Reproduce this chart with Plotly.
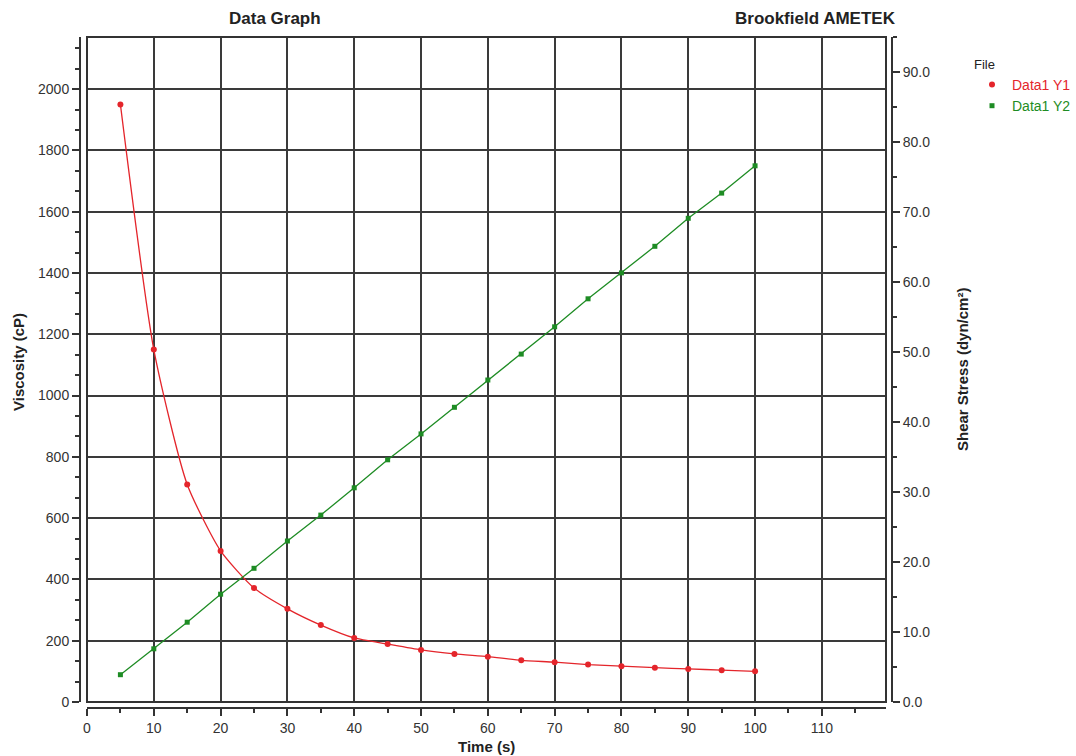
import plotly.graph_objects as go

# ---- data ----
time_s = [5, 10, 15, 20, 25, 30, 35, 40, 45, 50, 55, 60, 65, 70, 75, 80, 85, 90, 95, 100]
viscosity_cp = [1950, 1150, 710, 493, 372, 304, 251, 209, 189, 170, 157, 148, 136, 130, 122, 117, 112, 108, 104, 100]
shear_stress = [3.9, 7.6, 11.4, 15.4, 19.1, 23.0, 26.7, 30.6, 34.6, 38.3, 42.1, 46.0, 49.7, 53.6, 57.6, 61.3, 65.1, 69.1, 72.7, 76.6]

series_names = ["Data1 Y1", "Data1 Y2"]
legend_title = "File"
chart_title_left = "Data Graph"
chart_title_right = "Brookfield AMETEK"
x_title = "Time (s)"
y1_title = "Viscosity (cP)"
y2_title = "Shear Stress (dyn/cm²)"

W, H = 1076, 756
RED = "#e4252b"
GREEN = "#1e8c24"
AX = "#333333"
FONT = "Liberation Sans, Arial, sans-serif"


def fx(p):
    return p / W


def fy(p):
    return 1 - p / H


fig = go.Figure()

# red viscosity
fig.add_trace(go.Scatter(x=time_s, y=viscosity_cp, mode="lines", showlegend=False,
                         line=dict(color=RED, width=1.3, shape="spline", smoothing=0.6),
                         yaxis="y", hoverinfo="skip"))
fig.add_trace(go.Scatter(x=time_s, y=viscosity_cp, mode="markers",
                         name=f'<span style="color:{RED}">{series_names[0]}</span>',
                         marker=dict(symbol="circle", size=6, color=RED),
                         yaxis="y"))
# green shear stress
fig.add_trace(go.Scatter(x=time_s, y=shear_stress, mode="lines", showlegend=False,
                         line=dict(color=GREEN, width=1.3),
                         yaxis="y2", hoverinfo="skip"))
fig.add_trace(go.Scatter(x=time_s, y=shear_stress, mode="markers",
                         name=f'<span style="color:{GREEN}">{series_names[1]}</span>',
                         marker=dict(symbol="square", size=5, color=GREEN),
                         yaxis="y2"))

tickfont = dict(family=FONT, size=14, color=AX)

fig.update_layout(
    width=W, height=H, autosize=False,
    margin=dict(l=0, r=0, t=0, b=0, autoexpand=False),
    paper_bgcolor="white", plot_bgcolor="white",
    font=dict(family=FONT, color=AX),
    xaxis=dict(
        domain=[fx(87), fx(886)], anchor="free", position=fy(708),
        range=[0, 119.6], tick0=0, dtick=10, autorange=False,
        showgrid=True, gridcolor="#3a3a3a", gridwidth=1.6, zeroline=False,
        showline=True, linecolor=AX, linewidth=2,
        ticks="outside", ticklen=7, tickwidth=1.5, tickcolor=AX,
        minor=dict(ticks="outside", dtick=5, ticklen=4, tickwidth=1.5, tickcolor=AX, showgrid=False),
        tickfont=tickfont, automargin=False,
    ),
    yaxis=dict(
        domain=[fy(702), fy(37)], anchor="free", position=fx(80),
        range=[0, 2170], tick0=0, dtick=200, autorange=False,
        showgrid=True, gridcolor="#3a3a3a", gridwidth=1.6, zeroline=False,
        showline=True, linecolor=AX, linewidth=2,
        ticks="outside", ticklen=7, tickwidth=1.5, tickcolor=AX,
        minor=dict(ticks="outside", dtick=200 / 3, ticklen=4, tickwidth=1.5, tickcolor=AX, showgrid=False),
        tickfont=tickfont, automargin=False,
    ),
    yaxis2=dict(
        overlaying="y", side="right", anchor="free", position=fx(892),
        range=[0, 95], tick0=0, dtick=10, tickformat=".1f", autorange=False,
        showgrid=False, zeroline=False,
        showline=True, linecolor=AX, linewidth=2,
        ticks="outside", ticklen=7, tickwidth=1.5, tickcolor=AX,
        minor=dict(ticks="outside", dtick=5, ticklen=4, tickwidth=1.5, tickcolor=AX, showgrid=False),
        tickfont=tickfont, automargin=False,
    ),
    legend=dict(
        x=fx(972), y=fy(52), xanchor="left", yanchor="top",
        title=dict(text=legend_title, font=dict(family=FONT, size=13, color="#222")),
        font=dict(family=FONT, size=14), bgcolor="rgba(0,0,0,0)",
        itemwidth=30, tracegroupgap=0,
    ),
    showlegend=True,
)

# plot border
fig.add_shape(type="rect", xref="x domain", yref="y domain", x0=0, x1=1, y0=0, y1=1,
              line=dict(color=AX, width=2), layer="above")

ann_font_b = dict(family=FONT, size=17, color="#222")
fig.add_annotation(text=f"<b>{chart_title_left}</b>", xref="paper", yref="paper",
                   x=fx(275), y=fy(18), showarrow=False, xanchor="center", yanchor="middle", font=ann_font_b)
fig.add_annotation(text=f"<b>{chart_title_right}</b>", xref="paper", yref="paper",
                   x=fx(898), y=fy(18), showarrow=False, xanchor="right", yanchor="middle", font=ann_font_b)

title_font = dict(family=FONT, size=15, color="#222")
fig.add_annotation(text=f"<b>{x_title}</b>", xref="paper", yref="paper",
                   x=fx(486), y=fy(746), showarrow=False, xanchor="center", yanchor="middle", font=title_font)
fig.add_annotation(text=f"<b>{y1_title}</b>", xref="paper", yref="paper", textangle=-90,
                   x=fx(18), y=fy(362), showarrow=False, xanchor="center", yanchor="middle", font=title_font)
fig.add_annotation(text=f"<b>{y2_title}</b>", xref="paper", yref="paper", textangle=-90,
                   x=fx(962), y=fy(370), showarrow=False, xanchor="center", yanchor="middle", font=title_font)

fig.write_html("out.html", config={"displayModeBar": False},
               post_script="document.body.style.margin='0';document.body.style.overflow='hidden';")
